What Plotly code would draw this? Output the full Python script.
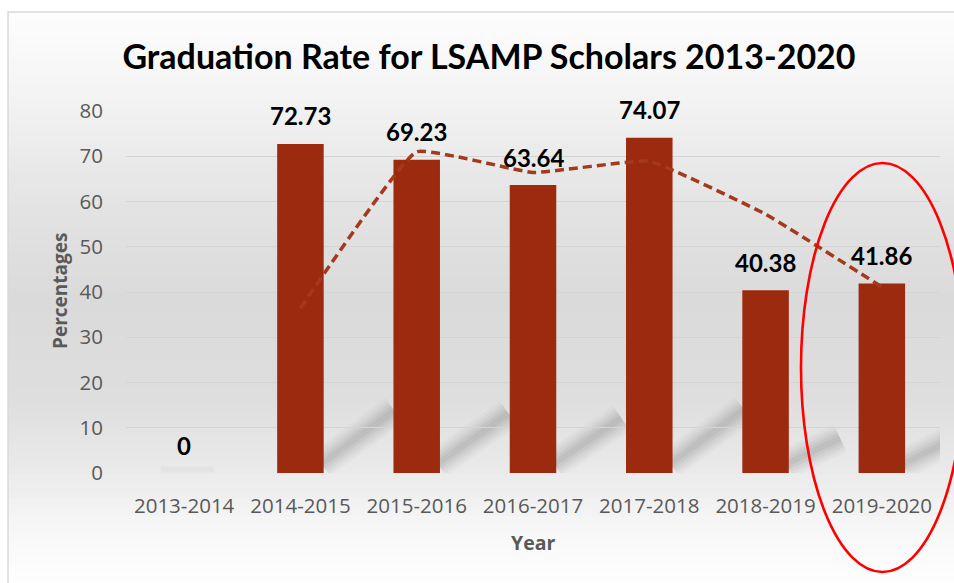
import plotly.graph_objects as go

# ---- data ----
years = ["2013-2014", "2014-2015", "2015-2016", "2016-2017", "2017-2018", "2018-2019", "2019-2020"]
rates = [0, 72.73, 69.23, 63.64, 74.07, 40.38, 41.86]
labels = ["0", "72.73", "69.23", "63.64", "74.07", "40.38", "41.86"]
trend_years = ["2014-2015", "2015-2016", "2016-2017", "2017-2018", "2018-2019", "2019-2020"]
trend_vals = [36.4, 71.0, 66.4, 68.9, 57.2, 41.1]
y_ticks = [0, 10, 20, 30, 40, 50, 60, 70, 80]

W, H = 954, 583
PL, PR, PT, PB = 126, 940, 111, 473  # plot area pixels
CAT_PX = (PR - PL) / len(years)


def px2paper_x(px):
    return (px - PL) / (PR - PL)


def px2paper_y(py):
    return (PB - py) / (PB - PT)


# background gradient stops (pixel y, gray level)
stops = [(12, 253), (100, 243), (200, 228), (300, 218), (400, 222), (470, 234), (530, 247), (583, 254)]


def gray_at(y):
    for (y0, g0), (y1, g1) in zip(stops[:-1], stops[1:]):
        if y0 <= y <= y1:
            t = (y - y0) / (y1 - y0)
            return g0 + (g1 - g0) * t
    return stops[-1][1]


shapes = []
step = 6
y = 12
while y < 590:
    g = int(round(gray_at(y + step / 2)))
    shapes.append(dict(type="rect", xref="paper", yref="paper", layer="below",
                       x0=px2paper_x(8), x1=px2paper_x(960),
                       y0=px2paper_y(y + step + 0.5), y1=px2paper_y(y),
                       line=dict(width=0), fillcolor=f"rgb({g},{g},{g})"))
    y += step
# chart border
shapes.append(dict(type="rect", xref="paper", yref="paper", layer="below",
                   x0=px2paper_x(8), x1=px2paper_x(970), y0=px2paper_y(600), y1=px2paper_y(12),
                   line=dict(color="#d9d9d9", width=1.5), fillcolor="rgba(0,0,0,0)"))

# soft shadows behind bars
for i, v in enumerate(rates):
    if v <= 0:
        sx0, sy0, sx1, sy1 = i - 0.2, 0.8, i + 0.25, 0.8
        layers = [(8, 0.02), (4, 0.025)]
    else:
        sx0, sy0 = i + 0.18, 2.0
        sx1 = i + 0.2 + (27 + 0.6 * v) / CAT_PX
        sy1 = 0.19 * v
        layers = [(30, 0.035), (24, 0.05), (18, 0.06), (12, 0.07), (6, 0.07)]
    for wdt, op in layers:
        shapes.append(dict(type="line", xref="x", yref="y", layer="below",
                           x0=sx0, y0=sy0, x1=sx1, y1=sy1,
                           line=dict(color=f"rgba(90,90,90,{op})", width=wdt)))

# red ellipse
shapes.append(dict(type="circle", xref="paper", yref="paper",
                   x0=px2paper_x(801), x1=px2paper_x(964),
                   y0=px2paper_y(572), y1=px2paper_y(163),
                   line=dict(color="#ff0000", width=2.6), fillcolor="rgba(0,0,0,0)"))

fig = go.Figure()
fig.add_trace(go.Bar(x=years, y=rates, marker=dict(color="#9b2a0f", line=dict(width=0)),
                     width=0.4, hoverinfo="x+y"))
fig.add_trace(go.Scatter(x=trend_years, y=trend_vals, mode="lines",
                         line=dict(color="#a23a1b", width=3.5, dash="9px,5px", shape="spline", smoothing=0.3),
                         hoverinfo="skip"))

annotations = []
for yr, v, lab in zip(years, rates, labels):
    annotations.append(dict(x=yr, y=v, xref="x", yref="y", text=f"<b>{lab}</b>", showarrow=False,
                            yshift=28, xanchor="center", yanchor="middle",
                            font=dict(family="Lato", size=24, color="#000000")))
annotations.append(dict(x=px2paper_x(60), y=px2paper_y(291), xref="paper", yref="paper",
                        xanchor="center", yanchor="middle",
                        text="<b>Percentages</b>", textangle=-90, showarrow=False,
                        font=dict(family="Open Sans", size=19, color="#595959")))
annotations.append(dict(x=px2paper_x(533), y=px2paper_y(542), xref="paper", yref="paper",
                        xanchor="center", yanchor="middle",
                        text="<b>Year</b>", showarrow=False,
                        font=dict(family="Open Sans", size=19.5, color="#595959")))

fig.update_layout(
    width=W, height=H,
    margin=dict(l=PL, r=W - PR, t=PT, b=H - PB, pad=0),
    paper_bgcolor="white", plot_bgcolor="rgba(0,0,0,0)",
    showlegend=False,
    title=dict(text="<b>Graduation Rate for LSAMP Scholars 2013-2020</b>",
               x=489 / W, xref="container", xanchor="center",
               y=1 - 57 / H, yref="container", yanchor="middle",
               font=dict(family="Lato", size=34, color="#000000")),
    shapes=shapes,
    annotations=annotations,
    bargap=0.6,
)
fig.update_xaxes(type="category", categoryorder="array", categoryarray=years,
                 range=[-0.5, len(years) - 0.5], autorange=False,
                 showgrid=False, showline=False, zeroline=False, ticks="",
                 ticklabelstandoff=18,
                 tickfont=dict(family="Open Sans", size=20.5, color="#595959"))
fig.update_yaxes(range=[0, 80], autorange=False, tickvals=y_ticks, showgrid=True,
                 gridcolor="#d4d4d4", gridwidth=1.2,
                 zeroline=False, showline=False, ticks="", ticklabelstandoff=22,
                 tickfont=dict(family="Open Sans", size=20.5, color="#595959"))

fig.write_html("out.html", config={"displayModeBar": False},
               post_script="document.body.style.margin='0px';document.body.style.overflow='hidden';")
